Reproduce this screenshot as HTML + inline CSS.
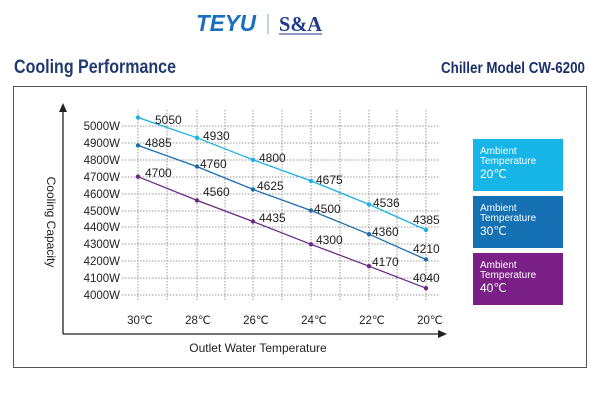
<!DOCTYPE html>
<html><head><meta charset="utf-8"><style>
body{margin:0;width:600px;height:400px;background:#fff;overflow:hidden;font-family:"Liberation Sans",sans-serif}
</style></head><body>
<svg width="600" height="400" xmlns="http://www.w3.org/2000/svg" font-family="Liberation Sans, sans-serif">
<text x="196" y="31" font-size="23" font-weight="bold" font-style="italic" fill="#1a6fc0" textLength="60" lengthAdjust="spacingAndGlyphs">TEYU</text>
<line x1="268" y1="14" x2="268" y2="34" stroke="#8aa0c0" stroke-width="1"/>
<text x="279" y="31" font-size="21" font-weight="bold" fill="#1e3a8a" font-family="Liberation Serif, serif" textLength="43" lengthAdjust="spacingAndGlyphs">S&amp;A</text>
<line x1="279" y1="34" x2="322" y2="34" stroke="#1e3a8a" stroke-width="1"/>
<text x="14" y="73" font-size="19" font-weight="bold" fill="#233a70" textLength="162" lengthAdjust="spacingAndGlyphs">Cooling Performance</text>
<text x="585" y="73" font-size="16" font-weight="bold" fill="#1b2f6b" text-anchor="end" textLength="144" lengthAdjust="spacingAndGlyphs">Chiller Model CW-6200</text>
<rect x="13.5" y="86.5" width="573" height="281" fill="none" stroke="#555" stroke-width="1"/>
<g stroke="#999" stroke-width="1" stroke-dasharray="1.5,1.5">
<line x1="122" y1="126" x2="440" y2="126"/><line x1="122" y1="143" x2="440" y2="143"/><line x1="122" y1="160" x2="440" y2="160"/><line x1="122" y1="177" x2="440" y2="177"/><line x1="122" y1="194" x2="440" y2="194"/><line x1="122" y1="211" x2="440" y2="211"/><line x1="122" y1="227" x2="440" y2="227"/><line x1="122" y1="244" x2="440" y2="244"/><line x1="122" y1="261" x2="440" y2="261"/><line x1="122" y1="278" x2="440" y2="278"/><line x1="122" y1="295" x2="440" y2="295"/>
<line x1="138" y1="110" x2="138" y2="300"/><line x1="167" y1="110" x2="167" y2="300"/><line x1="197" y1="110" x2="197" y2="300"/><line x1="225" y1="110" x2="225" y2="300"/><line x1="253" y1="110" x2="253" y2="300"/><line x1="282" y1="110" x2="282" y2="300"/><line x1="311" y1="110" x2="311" y2="300"/><line x1="340" y1="110" x2="340" y2="300"/><line x1="369" y1="110" x2="369" y2="300"/><line x1="397" y1="110" x2="397" y2="300"/><line x1="426" y1="110" x2="426" y2="300"/>
</g>
<line x1="63" y1="334" x2="63" y2="110" stroke="#222" stroke-width="1.3"/>
<polygon points="63,103 59,112 67,112" fill="#222"/>
<line x1="63" y1="334" x2="440" y2="334" stroke="#222" stroke-width="1.3"/>
<polygon points="447,334 438,330 438,338" fill="#222"/>
<g font-size="11.5" fill="#222" text-anchor="end">
<text x="120" y="130">5000W</text><text x="120" y="147">4900W</text><text x="120" y="164">4800W</text><text x="120" y="181">4700W</text><text x="120" y="198">4600W</text><text x="120" y="215">4500W</text><text x="120" y="231">4400W</text><text x="120" y="248">4300W</text><text x="120" y="265">4200W</text><text x="120" y="282">4100W</text><text x="120" y="299">4000W</text>
</g>
<g font-size="11.5" fill="#222" text-anchor="middle">
<text x="140" y="324">30℃</text><text x="198" y="324">28℃</text><text x="256" y="324">26℃</text><text x="314" y="324">24℃</text><text x="372" y="324">22℃</text><text x="430" y="324">20℃</text>
</g>
<text x="258" y="352" font-size="12" fill="#222" text-anchor="middle">Outlet Water Temperature</text>
<text transform="translate(47,222) rotate(90)" font-size="12" fill="#222" text-anchor="middle">Cooling Capacity</text>
<polyline points="138,117.5 197,137.8 253,159.8 311,180.9 369,204.4 426,229.9" fill="none" stroke="#1ab0e6" stroke-width="1.3"/>
<polyline points="138,145.4 197,166.6 253,189.4 311,210.5 369,234.2 426,259.5" fill="none" stroke="#1a6eae" stroke-width="1.3"/>
<polyline points="138,176.7 197,200.4 253,221.5 311,244.3 369,266.2 426,288.2" fill="none" stroke="#6b2a86" stroke-width="1.3"/>
<g fill="#1ab0e6"><circle cx="138" cy="117.5" r="2.2"/><circle cx="197" cy="137.8" r="2.2"/><circle cx="253" cy="159.8" r="2.2"/><circle cx="311" cy="180.9" r="2.2"/><circle cx="369" cy="204.4" r="2.2"/><circle cx="426" cy="229.9" r="2.2"/></g>
<g fill="#1a6eae"><circle cx="138" cy="145.4" r="2.2"/><circle cx="197" cy="166.6" r="2.2"/><circle cx="253" cy="189.4" r="2.2"/><circle cx="311" cy="210.5" r="2.2"/><circle cx="369" cy="234.2" r="2.2"/><circle cx="426" cy="259.5" r="2.2"/></g>
<g fill="#6b2a86"><circle cx="138" cy="176.7" r="2.2"/><circle cx="197" cy="200.4" r="2.2"/><circle cx="253" cy="221.5" r="2.2"/><circle cx="311" cy="244.3" r="2.2"/><circle cx="369" cy="266.2" r="2.2"/><circle cx="426" cy="288.2" r="2.2"/></g>
<g font-size="12" fill="#222">
<text x="155" y="124">5050</text><text x="203" y="140">4930</text><text x="259" y="162">4800</text><text x="316" y="184">4675</text><text x="373" y="207">4536</text><text x="413" y="224">4385</text>
<text x="145" y="147">4885</text><text x="200" y="168">4760</text><text x="257" y="190">4625</text><text x="314" y="213">4500</text><text x="372" y="236">4360</text><text x="413" y="253">4210</text>
<text x="145" y="177">4700</text><text x="203" y="196">4560</text><text x="259" y="222">4435</text><text x="316" y="244">4300</text><text x="372" y="266">4170</text><text x="413" y="282">4040</text>
</g>
<rect x="473" y="139" width="90" height="52" fill="#17b4e8"/>
<rect x="473" y="196" width="90" height="52" fill="#1670b4"/>
<rect x="473" y="253" width="90" height="52" fill="#7a1f86"/>
<g fill="#fff" font-size="10">
<text x="480" y="154">Ambient</text><text x="480" y="164">Temperature</text><text x="480" y="178" font-size="12">20℃</text>
<text x="480" y="211">Ambient</text><text x="480" y="221">Temperature</text><text x="480" y="235" font-size="12">30℃</text>
<text x="480" y="268">Ambient</text><text x="480" y="278">Temperature</text><text x="480" y="292" font-size="12">40℃</text>
</g>
</svg>
</body></html>
